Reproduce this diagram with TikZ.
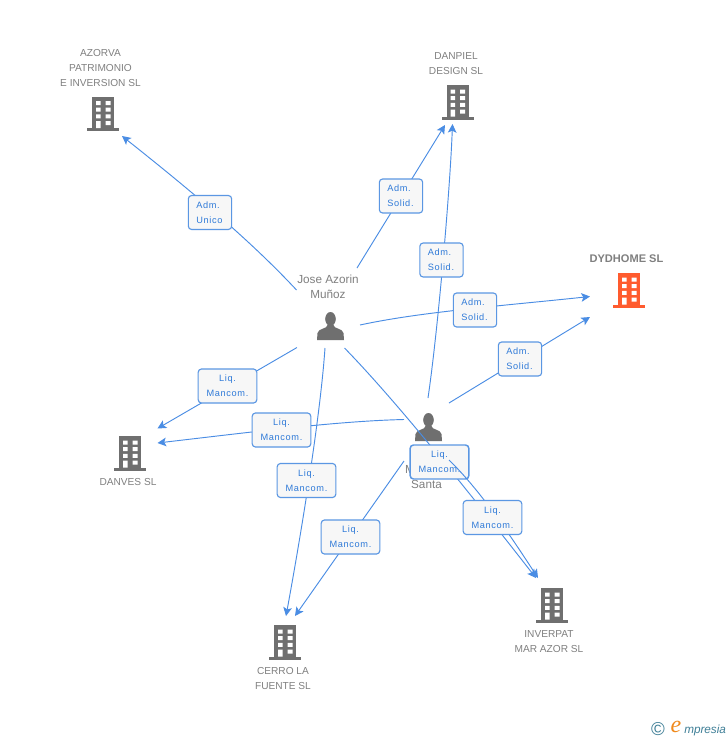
\documentclass[tikz,border=0pt]{standalone}
\usepackage{fontspec}
\setmainfont{Liberation Sans}
\newfontfamily\lblfont[LetterSpace=7]{Liberation Sans}
\newfontfamily\logoserif{Liberation Serif}
\usetikzlibrary{arrows.meta,calc}
\definecolor{txtgray}{HTML}{808080}
\definecolor{icongray}{HTML}{6F6F6F}
\definecolor{iconorange}{HTML}{FF5B2E}
\definecolor{linkblue}{HTML}{4A8DE4}
\definecolor{lblborder}{HTML}{5B97E3}
\definecolor{lbltext}{HTML}{2F7AD8}
\definecolor{logoteal}{HTML}{3F7F97}
\definecolor{logoorange}{HTML}{F08A1D}
\tikzset{
  conn/.style={draw=linkblue,line width=0.7pt},
  arr/.style={conn,-{Stealth[length=6.5pt,width=6.5pt,inset=1.5pt]}},
  anchorpt/.style={inner sep=0pt,minimum size=20pt},
  name text/.style={text=txtgray,font=\fontsize{7.6pt}{11.25pt}\selectfont,align=center,inner sep=0pt},
  mixed text/.style={name text,font=\fontsize{8.8pt}{11.25pt}\selectfont},
  lbl/.style={draw=lblborder,line width=0.85pt,rounded corners=2.5pt,fill=white!97!black,
    text=lbltext,font=\lblfont\fontsize{6.9pt}{11.25pt}\selectfont,inner sep=0pt,
    minimum height=25.5pt},
  admlbl/.style={lbl,minimum width=32.5pt,text width=20.5pt,align=left},
  liqlbl/.style={lbl,minimum width=44pt,align=center},
  bldg/.pic={
    \fill[pic actions] (-11,-17.5) rectangle (11,14);
    \fill[pic actions] (-16,14) rectangle (16,17);
    \fill[white] (-7,-13) rectangle (-2.3,-9) (2.7,-13) rectangle (7.7,-9)
                 (-7,-6.3) rectangle (-2.3,-2.3) (2.7,-6.3) rectangle (7.7,-2.3)
                 (-7,0.3) rectangle (-2.3,4.3) (2.7,0.3) rectangle (7.7,4.3)
                 (-7,7) rectangle (-2.3,14) (2.7,7) rectangle (7.7,11);
  },
  persona/.pic={
    \fill[icongray] (0,-7) ellipse [x radius=5.3,y radius=7];
    \fill[icongray] (-3,-1) .. controls (-3,3) and (-12,2) .. (-13,7) -- (-13.5,14) -- (13.5,14) -- (13,7)
       .. controls (12,2) and (3,3) .. (3,-1) -- cycle;
  }
}
\begin{document}
\begin{tikzpicture}[x=0.75pt,y=-0.75pt]
\useasboundingbox[fill=white] (0,0) rectangle (728,740);

% anchor nodes
\node[anchorpt] (azorva) at (103,114) {};
\node[anchorpt] (danpiel) at (457.5,102.5) {};
\node[anchorpt] (dydhome) at (629,290.5) {};
\node[anchorpt] (danves) at (130,453.5) {};
\node[anchorpt] (cerro) at (285,642.5) {};
\node[anchorpt] (inverpat) at (552,605.5) {};
\node[anchorpt] (jose) at (330.5,326) {};
\node[anchorpt] (maria) at (428.5,427) {};

% persons and buildings
\pic at (jose) {persona};
\pic at (maria) {persona};
\pic[fill=icongray] at (azorva) {bldg};
\pic[fill=icongray] at (danpiel) {bldg};
\pic[fill=iconorange] at (dydhome) {bldg};
\pic[fill=icongray] at (danves) {bldg};
\pic[fill=icongray] at (cerro) {bldg};
\pic[fill=icongray] at (inverpat) {bldg};

% names
\node[name text] (tazorva) at (100.5,68.5) {AZORVA\\PATRIMONIO\\E INVERSION SL};
\node[name text] (tdanpiel) at (456,64) {DANPIEL\\DESIGN SL};
\node[name text,font=\fontsize{8.3pt}{11.25pt}\selectfont\bfseries] (tdyd) at (626.5,259) {DYDHOME SL};
\node[name text] (tdanves) at (128,482.5) {DANVES SL};
\node[name text] (tcerro) at (283,679) {CERRO LA\\FUENTE SL};
\node[name text] (tinver) at (549,642) {INVERPAT\\MAR AZOR SL};
\node[mixed text] (tjose) at (328,287) {Jose Azorin\\Muñoz};
\node[mixed text] (tmaria) at (426.5,477) {\makebox[32pt][l]{M}\\Santa};

% connectors
\draw[arr] ($(jose)+(-34,-36)$) .. controls (250,240) and (190,190) .. ($(azorva)+(19,22)$);
\draw[arr] ($(jose)+(26.5,-58)$) -- ($(danpiel)+(-12.5,22.5)$);
\draw[arr] ($(jose)+(29.5,-1)$) .. controls (420,312) and (500,306) .. ($(dydhome)+(-39,6)$);
\draw[arr] ($(maria)+(20.5,-24)$) -- ($(dydhome)+(-39,26.5)$);
\draw[arr] ($(maria)+(-0.5,-29)$) .. controls (438,330) and (450,190) .. ($(danpiel)+(-5,21.5)$);
\draw[arr] ($(jose)+(-33.5,21.5)$) -- ($(danves)+(27.5,-25)$);
\draw[arr] ($(maria)+(-24.5,-7.5)$) .. controls (340,421) and (260,431) .. ($(danves)+(27.5,-10.5)$);
\draw[arr] ($(jose)+(-5.5,22)$) .. controls (320,420) and (300,540) .. ($(cerro)+(1,-26.5)$);
\draw[arr] ($(maria)+(-24.5,34)$) -- ($(cerro)+(10,-26.5)$);
\draw[arr] ($(jose)+(14,22)$) .. controls (400,405) and (475,500) .. ($(inverpat)+(-16,-27.5)$);

% labels
\node[admlbl] (l1) at (210,212.5) {Adm.\\Unico};
\node[admlbl] (l2) at (401,196) {Adm.\\Solid.};
\node[admlbl] (l3) at (441.5,260) {Adm.\\Solid.};
\node[admlbl] (l4) at (475,310) {Adm.\\Solid.};
\node[admlbl] (l5) at (520,359) {Adm.\\Solid.};
\node[liqlbl] (l6) at (227.5,386) {Liq.\\Mancom.};
\node[liqlbl] (l7) at (281.5,430) {Liq.\\Mancom.};
\node[liqlbl] (l8) at (306.5,480.5) {Liq.\\Mancom.};
\node[liqlbl] (l9) at (350.5,537) {Liq.\\Mancom.};
\node[liqlbl,line width=1.1pt] (l10) at (439.5,462) {Liq.\\Mancom.};

\draw[arr] ($(maria)+(20.5,33)$) .. controls (480,490) and (510,535) .. ($(inverpat)+(-14,-27.5)$);

\node[liqlbl] (l11) at (492.5,517.5) {Liq.\\Mancom.};

% logo
\node[text=logoteal,inner sep=0pt,font=\fontsize{14pt}{14pt}\selectfont] (copyr) at (658,729.5) {©};
\node[text=logoorange,inner sep=0pt,font=\logoserif\itshape\fontsize{18pt}{18pt}\selectfont] (logoe) at (676,726.5) {e};
\node[text=logoteal,inner sep=0pt,anchor=base west,font=\itshape\fontsize{8.8pt}{10pt}\selectfont] (logot) at (684,733) {mpresia};
\end{tikzpicture}
\end{document}
